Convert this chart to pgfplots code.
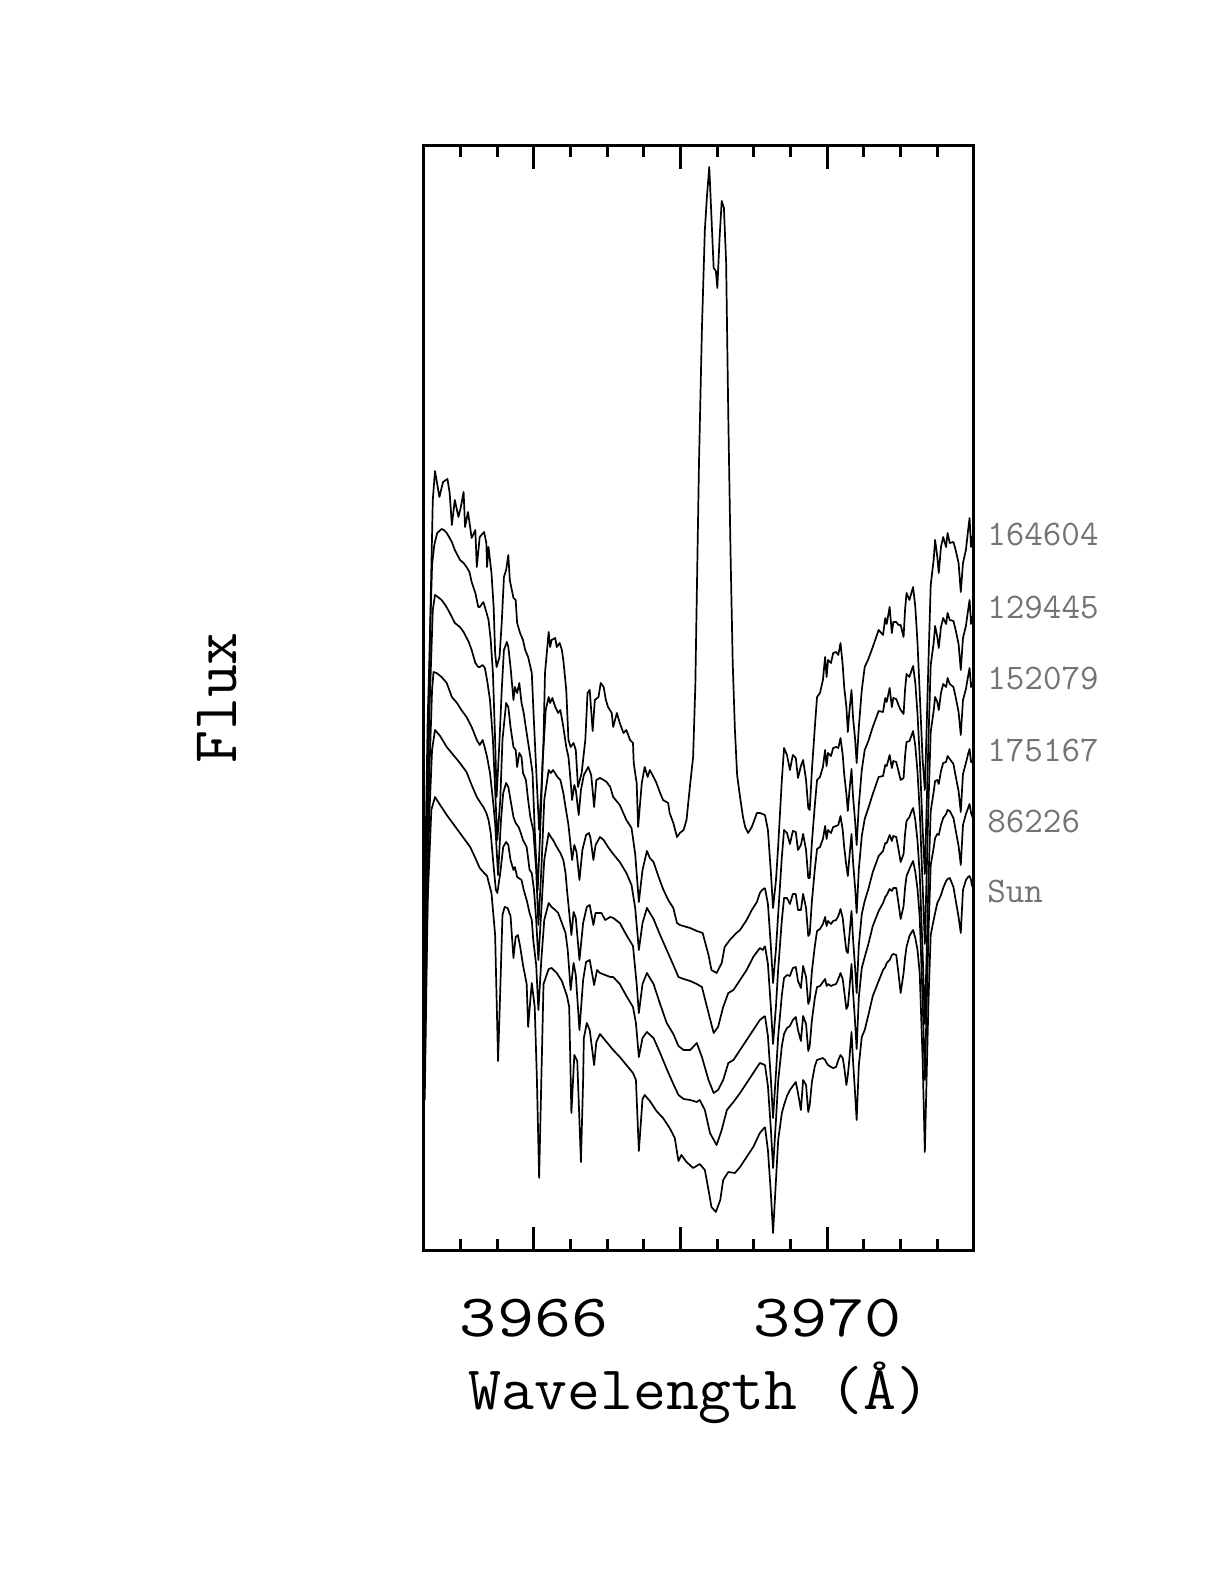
\documentclass[border=0pt]{standalone}
\usepackage{graphicx}
\usepackage{pgfplots}
\usepackage{pgfplotstable}
\pgfplotsset{compat=1.18}
\newcommand{\ticklab}[1]{\scalebox{1.2}[1]{\fontsize{30}{31}\selectfont\ttfamily #1}}
\pgfplotstableread{
lam c1 c2 c3 c4 c5 sun
3969.15 435 362 304 234 185 123
3969.19 420 346 286 214 164 100
3969.23 378 304 243 171 121 57
3969.26 342 267 206 132 82 17
3969.30 370 301 244 177 130 70
3969.33 404 336 281 214 169 110
3969.38 470 393 330 255 204 137
3969.41 502 420 352 272 216 145
3969.45 495 417 352 275 222 154
3969.49 480 406 346 274 224 160
3969.53 495 419 356 282 230 164
3969.57 492 418 356 283 233 168
3969.60 472 400 340 269 220 157
3969.64 484 405 340 262 209 140
3969.67 490 416 356 284 234 170
3969.71 470 400 342 273 226 165
3969.74 442 372 314 246 199 138
3969.76 440 372 316 250 204 145
3969.79 480 408 349 279 230 168
3969.83 523 445 381 304 252 184
3969.86 553 470 401 319 263 190
3969.90 557 473 403 321 264 191
3969.94 570 483 411 326 268 192
3969.97 593 500 424 333 271 190
3969.99 573 484 411 324 264 187
3970.01 590 497 420 329 266 185
3970.05 587 494 417 326 264 183
3970.08 597 502 423 329 265 182
3970.12 598 503 424 330 266 183
3970.15 595 502 425 334 271 190
3970.18 607 512 434 341 277 195
3970.21 585 495 420 332 271 192
3970.23 563 476 403 318 259 183
3970.26 543 456 384 299 241 165
3970.28 518 439 374 297 244 175
3970.30 538 458 392 314 260 190
3970.33 560 481 416 339 286 218
3970.35 533 454 389 312 259 190
3970.38 510 428 361 281 226 155
3970.40 487 405 337 257 201 130
3970.43 523 445 381 305 253 185
3970.47 560 480 414 336 282 213
3970.51 583 500 431 349 293 220
3970.56 591 509 442 361 306 235
3970.62 603 523 456 378 324 254
3970.70 620 539 473 394 339 269
3970.76 615 538 474 399 347 280
3970.79 632 552 485 407 353 283
3970.81 626 548 484 407 355 287
3970.85 643 562 495 415 361 290
3970.88 617 543 482 409 359 295
3970.90 628 552 489 414 362 296
3970.94 628 551 488 413 362 295
3970.97 625 545 479 401 347 277
3971.00 625 540 470 388 331 257
3971.04 613 536 472 396 344 277
3971.06 640 560 494 416 362 292
3971.08 657 576 508 429 374 303
3971.12 650 573 509 433 381 314
3971.15 658 580 515 439 386 318
3971.17 663 584 519 442 389 320
3971.20 643 567 504 430 378 312
3971.23 607 536 478 409 361 300
3971.26 557 493 439 376 333 277
3971.30 490 421 364 297 250 190
3971.33 460 376 306 226 170 98
3971.35 510 430 363 284 230 160
3971.38 590 512 447 371 318 250
3971.41 665 585 518 439 385 315
3971.45 690 607 539 458 402 330
3971.47 710 624 553 469 412 337
3971.50 693 613 548 470 416 347
3971.52 677 602 540 466 415 350
3971.55 703 623 557 479 425 355
3971.58 713 632 566 487 432 362
3971.62 703 626 563 488 436 369
3971.64 717 637 572 494 440 371
3971.67 707 630 566 491 439 372
3971.72 708 629 563 486 432 363
3971.75 700 620 553 474 420 350
3971.79 687 606 538 459 404 333
3971.82 658 580 515 438 385 317
3971.85 687 612 550 476 425 360
3971.89 700 624 561 487 436 370
3971.92 720 640 574 496 442 373
3971.94 732 650 582 501 446 374
3971.96 703 626 563 488 437 370
3971.97 713 633 567 489 435 365
3972.00 707 627 561 483 429 360
}\gridtab
\begin{document}
\begin{tikzpicture}
\useasboundingbox (-212pt,-167pt) rectangle (400pt,625pt);
\begin{axis}[
  at={(0,0)}, anchor=south west,
  scale only axis, width=275pt, height=552pt,
  xmin=3964.5, xmax=3972, ymin=0, ymax=1104,
  clip=false,
  axis line style={line width=1.5pt},
  ytick=\empty,
  xtick={3966,3968,3970},
  xticklabels={\ticklab{3966},{},\ticklab{3970}},
  minor xtick={3965,3965.5,3966.5,3967,3967.5,3968.5,3969,3969.5,3970.5,3971,3971.5},
  tick align=inside,
  major tick length=11.5pt, minor tick length=5.5pt,
  every tick/.style={black, line width=1.5pt},
  xticklabel style={anchor=base, yshift=-43pt, inner sep=0pt},
  xlabel={\scalebox{1.03}[1]{\fontsize{31}{32}\selectfont\ttfamily Wavelength (Å)}},
  every axis x label/.style={at={(axis description cs:0.5,-0.1449)}, anchor=base, inner sep=0pt},
  ylabel={\fontsize{32}{34}\selectfont\ttfamily Flux},
  every axis y label/.style={at={(axis description cs:-0.3407,0.5)}, anchor=base, rotate=90, inner sep=0pt},
  spec/.style={black, solid, line width=0.85pt, line join=round, mark=none},
]
% 164604
\addplot[spec] coordinates {(3964.51,164) (3964.54,370) (3964.58,610) (3964.62,750) (3964.65,779) (3964.71,753) (3964.76,768) (3964.82,771) (3964.85,757) (3964.88,725) (3964.92,750) (3964.97,733) (3965.00,742) (3965.04,758) (3965.06,723) (3965.10,738) (3965.15,712) (3965.20,720) (3965.22,683) (3965.26,713) (3965.32,718) (3965.35,707) (3965.36,683) (3965.38,703) (3965.42,677) (3965.45,643) (3965.47,597) (3965.49,583) (3965.53,593) (3965.56,627) (3965.59,673) (3965.62,680) (3965.65,695) (3965.67,670) (3965.72,652) (3965.75,650) (3965.77,627) (3965.81,617) (3965.85,610) (3965.88,600) (3965.92,593) (3965.97,577) (3965.99,543) (3966.03,480) (3966.07,420) (3966.10,460) (3966.13,510) (3966.15,577) (3966.20,618) (3966.22,603) (3966.24,610) (3966.29,612) (3966.31,603) (3966.35,607) (3966.38,600) (3966.40,590) (3966.44,560) (3966.47,510) (3966.50,503) (3966.54,507) (3966.57,500) (3966.60,463) (3966.65,477) (3966.70,510) (3966.73,557) (3966.76,560) (3966.80,519) (3966.83,550) (3966.88,553) (3966.91,567) (3966.95,563) (3966.98,550) (3967.01,543) (3967.06,537) (3967.08,523) (3967.13,537) (3967.17,527) (3967.22,517) (3967.26,520) (3967.31,510) (3967.35,507) (3967.36,487) (3967.40,467) (3967.42,423) (3967.47,467) (3967.51,483) (3967.55,473) (3967.58,480) (3967.63,473) (3967.67,467) (3967.72,457) (3967.76,450) (3967.83,447) (3967.85,437) (3967.90,427) (3967.95,413) (3967.99,417) (3968.04,420) (3968.08,430) (3968.13,466) (3968.17,493) (3968.20,564) (3968.22,654) (3968.25,787) (3968.29,921) (3968.33,1020) (3968.36,1055) (3968.39,1083) (3968.42,1033) (3968.45,982) (3968.48,979) (3968.50,962) (3968.53,1011) (3968.56,1049) (3968.59,1042) (3968.62,988) (3968.65,832) (3968.68,698) (3968.71,587) (3968.74,520) (3968.77,475) (3968.81,453) (3968.85,433) (3968.88,423) (3968.92,417) (3968.97,423) (3969.04,437) (3969.08,437) (3969.15,435)};
\addplot[spec] table[x=lam,y=c1]{\gridtab};
% 129445
\addplot[spec] coordinates {(3964.51,350) (3964.55,530) (3964.61,685) (3964.64,705) (3964.68,717) (3964.74,721) (3964.77,720) (3964.81,717) (3964.85,712) (3964.88,708) (3964.92,700) (3964.97,693) (3964.99,690) (3965.04,687) (3965.08,683) (3965.12,678) (3965.15,668) (3965.20,657) (3965.24,643) (3965.26,643) (3965.31,648) (3965.35,638) (3965.38,630) (3965.41,610) (3965.44,577) (3965.47,510) (3965.49,453) (3965.53,510) (3965.56,560) (3965.59,600) (3965.63,608) (3965.65,603) (3965.68,583) (3965.72,550) (3965.74,563) (3965.77,557) (3965.80,567) (3965.83,547) (3965.86,537) (3965.90,517) (3965.95,493) (3965.98,477) (3966.01,420) (3966.05,360) (3966.08,410) (3966.12,490) (3966.16,540) (3966.20,553) (3966.22,547) (3966.25,552) (3966.29,543) (3966.33,537) (3966.36,540) (3966.40,523) (3966.44,503) (3966.47,493) (3966.49,477) (3966.52,450) (3966.55,465) (3966.57,460) (3966.61,435) (3966.64,460) (3966.68,475) (3966.74,483) (3966.78,475) (3966.82,443) (3966.85,470) (3966.90,472) (3966.95,470) (3966.99,468) (3967.04,463) (3967.08,453) (3967.17,445) (3967.26,430) (3967.33,422) (3967.38,396) (3967.43,348) (3967.48,380) (3967.54,399) (3967.58,392) (3967.63,388) (3967.70,373) (3967.76,361) (3967.83,350) (3967.90,342) (3967.95,327) (3967.99,325) (3968.08,323) (3968.13,322) (3968.22,319) (3968.30,317) (3968.38,295) (3968.42,280) (3968.49,277) (3968.56,287) (3968.60,303) (3968.67,310) (3968.76,317) (3968.81,320) (3968.90,330) (3968.97,340) (3969.04,348) (3969.08,357) (3969.11,360) (3969.15,362)};
\addplot[spec] table[x=lam,y=c2]{\gridtab};
% 152079
\addplot[spec] coordinates {(3964.51,300) (3964.57,530) (3964.62,640) (3964.65,655) (3964.69,653) (3964.74,650) (3964.79,645) (3964.83,640) (3964.88,633) (3964.92,627) (3964.99,623) (3965.04,618) (3965.11,608) (3965.15,600) (3965.20,587) (3965.24,583) (3965.26,583) (3965.30,585) (3965.33,582) (3965.36,570) (3965.40,550) (3965.44,510) (3965.47,460) (3965.50,410) (3965.54,450) (3965.57,510) (3965.62,547) (3965.65,543) (3965.68,523) (3965.72,503) (3965.75,500) (3965.77,483) (3965.80,497) (3965.83,493) (3965.85,477) (3965.89,470) (3965.92,450) (3965.95,433) (3965.99,420) (3966.03,380) (3966.06,325) (3966.10,380) (3966.14,450) (3966.20,480) (3966.23,477) (3966.26,480) (3966.32,473) (3966.36,470) (3966.40,457) (3966.43,443) (3966.47,425) (3966.52,390) (3966.55,405) (3966.58,398) (3966.62,370) (3966.66,400) (3966.71,415) (3966.75,417) (3966.77,412) (3966.81,390) (3966.84,405) (3966.90,413) (3966.95,410) (3967.01,403) (3967.08,396) (3967.17,388) (3967.26,377) (3967.33,365) (3967.38,342) (3967.43,300) (3967.48,327) (3967.54,342) (3967.63,331) (3967.72,315) (3967.81,300) (3967.90,285) (3967.97,273) (3968.04,271) (3968.13,269) (3968.22,266) (3968.29,263) (3968.38,237) (3968.45,217) (3968.51,223) (3968.58,243) (3968.65,257) (3968.72,260) (3968.81,270) (3968.90,280) (3968.99,293) (3969.08,302) (3969.12,300) (3969.15,304)};
\addplot[spec] table[x=lam,y=c3]{\gridtab};
% 175167
\addplot[spec] coordinates {(3964.51,250) (3964.57,470) (3964.61,560) (3964.63,578) (3964.67,577) (3964.74,573) (3964.81,567) (3964.88,553) (3964.95,547) (3965.01,540) (3965.08,533) (3965.15,523) (3965.22,510) (3965.26,505) (3965.30,510) (3965.33,502) (3965.36,493) (3965.40,477) (3965.44,450) (3965.47,427) (3965.51,375) (3965.55,430) (3965.58,457) (3965.62,467) (3965.65,463) (3965.68,450) (3965.72,433) (3965.75,427) (3965.79,423) (3965.82,417) (3965.85,410) (3965.90,403) (3965.94,380) (3965.97,377) (3966.00,360) (3966.03,330) (3966.06,290) (3966.10,340) (3966.14,390) (3966.20,417) (3966.23,413) (3966.26,410) (3966.31,403) (3966.36,397) (3966.40,390) (3966.43,377) (3966.45,360) (3966.51,315) (3966.54,338) (3966.57,332) (3966.62,290) (3966.67,327) (3966.72,343) (3966.76,345) (3966.81,325) (3966.84,337) (3966.92,337) (3966.97,330) (3967.04,333) (3967.08,332) (3967.17,327) (3967.26,315) (3967.35,304) (3967.40,266) (3967.43,237) (3967.48,266) (3967.54,277) (3967.63,266) (3967.72,246) (3967.81,227) (3967.90,216) (3967.97,204) (3968.04,200) (3968.13,200) (3968.22,207) (3968.29,193) (3968.38,170) (3968.45,157) (3968.51,160) (3968.58,170) (3968.65,187) (3968.72,190) (3968.81,200) (3968.90,210) (3968.99,220) (3969.08,230) (3969.15,234)};
\addplot[spec] table[x=lam,y=c4]{\gridtab};
% 86226
\addplot[spec] coordinates {(3964.51,200) (3964.57,430) (3964.61,500) (3964.65,520) (3964.72,514) (3964.81,503) (3964.90,495) (3964.99,487) (3965.08,478) (3965.15,465) (3965.22,453) (3965.29,445) (3965.31,443) (3965.35,437) (3965.38,430) (3965.41,417) (3965.45,383) (3965.48,360) (3965.50,357) (3965.54,377) (3965.58,403) (3965.62,408) (3965.65,405) (3965.68,390) (3965.72,380) (3965.74,383) (3965.77,373) (3965.83,370) (3965.86,360) (3965.90,350) (3965.94,337) (3965.97,330) (3965.99,310) (3966.03,285) (3966.06,240) (3966.10,290) (3966.14,330) (3966.20,347) (3966.24,343) (3966.29,340) (3966.33,337) (3966.38,327) (3966.43,317) (3966.46,300) (3966.50,260) (3966.54,287) (3966.57,275) (3966.62,220) (3966.67,270) (3966.71,288) (3966.76,290) (3966.82,265) (3966.86,280) (3966.90,277) (3966.97,275) (3967.04,273) (3967.08,273) (3967.17,266) (3967.26,254) (3967.35,243) (3967.39,227) (3967.43,193) (3967.48,212) (3967.54,218) (3967.63,212) (3967.72,197) (3967.81,181) (3967.90,166) (3967.97,155) (3968.04,151) (3968.13,150) (3968.22,148) (3968.26,150) (3968.33,140) (3968.40,117) (3968.49,105) (3968.56,120) (3968.63,140) (3968.72,148) (3968.81,157) (3968.90,167) (3968.99,177) (3969.08,187) (3969.15,185)};
\addplot[spec] table[x=lam,y=c5]{\gridtab};
% Sun
\addplot[spec] coordinates {(3964.51,150) (3964.55,350) (3964.60,440) (3964.65,453) (3964.72,445) (3964.81,435) (3964.90,426) (3964.99,417) (3965.08,408) (3965.13,403) (3965.20,392) (3965.26,382) (3965.32,377) (3965.36,374) (3965.42,357) (3965.47,315) (3965.51,189) (3965.54,260) (3965.57,335) (3965.60,343) (3965.64,342) (3965.68,334) (3965.72,292) (3965.75,313) (3965.78,315) (3965.81,304) (3965.85,285) (3965.90,266) (3965.92,223) (3965.95,250) (3965.97,267) (3966.01,243) (3966.04,170) (3966.07,72) (3966.10,170) (3966.13,266) (3966.20,281) (3966.24,282) (3966.31,277) (3966.38,269) (3966.45,254) (3966.48,243) (3966.51,137) (3966.55,195) (3966.59,189) (3966.64,88) (3966.67,170) (3966.68,212) (3966.72,227) (3966.76,220) (3966.82,185) (3966.85,208) (3966.90,216) (3966.99,208) (3967.08,200) (3967.17,193) (3967.26,185) (3967.35,177) (3967.39,170) (3967.43,99) (3967.48,151) (3967.51,155) (3967.58,149) (3967.67,139) (3967.76,132) (3967.85,122) (3967.92,112) (3967.97,89) (3968.01,95) (3968.08,88) (3968.17,82) (3968.26,86) (3968.33,80) (3968.38,60) (3968.42,43) (3968.48,38) (3968.54,50) (3968.58,70) (3968.65,78) (3968.74,77) (3968.81,83) (3968.90,93) (3968.99,103) (3969.08,117) (3969.15,123)};
\addplot[spec] table[x=lam,y=sun]{\gridtab};
\begin{scope}[every node/.style={anchor=west, text=black!55, font=\fontsize{18}{19}\selectfont\ttfamily, inner sep=0pt, xshift=6.5pt}]
\node at (axis cs:3972,716) {164604};
\node at (axis cs:3972,643) {129445};
\node at (axis cs:3972,572) {152079};
\node at (axis cs:3972,500) {175167};
\node at (axis cs:3972,428) {86226};
\node at (axis cs:3972,358) {Sun};
\end{scope}
\end{axis}
\end{tikzpicture}
\end{document}
